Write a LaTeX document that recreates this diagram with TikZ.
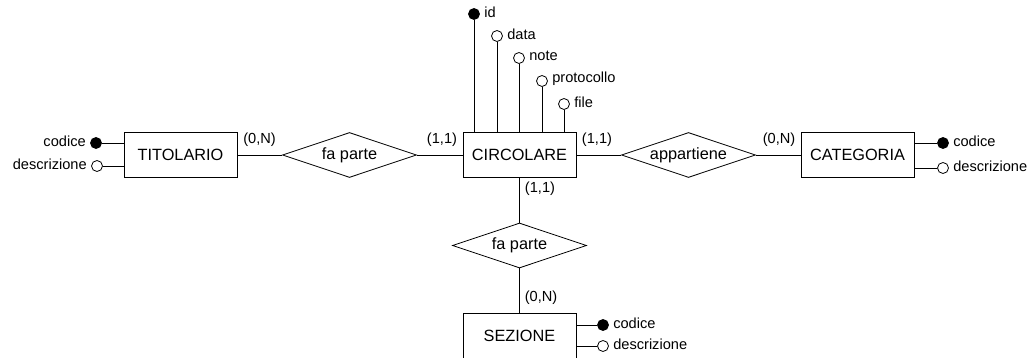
\documentclass[tikz,border=0pt]{standalone}
\usepackage{fontspec}
\setmainfont{Liberation Sans}
\usetikzlibrary{shapes.geometric}
\begin{document}
\begin{tikzpicture}
        [x=1pt,y=-1pt,line width=0.8pt,
         entity/.style={rectangle,draw,minimum width=113pt,minimum height=45pt,
           inner sep=0pt,font=\fontsize{16.3}{19}\selectfont},
         relation/.style={diamond,draw,shape aspect=3,minimum width=134pt,
           minimum height=45pt,inner sep=0pt,font=\fontsize{16.3}{19}\selectfont},
         attr/.style={circle,draw,fill=white,minimum size=11pt,inner sep=0pt,
           label={[font=\fontsize{14.6}{17}\selectfont,inner sep=1pt,
             label distance=3pt,yshift=2pt]#1}},
         keyattr/.style={attr=#1,fill=black},
         card/.style={font=\fontsize{14.6}{17}\selectfont,inner sep=0pt}]
        \useasboundingbox (0,0) rectangle (1030,358);
        % entities and relations
        \node[entity] (titolario) at (180.5,155)   {TITOLARIO};
        \node[entity] (circolare) at (519.5,155)   {CIRCOLARE};
        \node[entity] (categoria) at (857.5,155)   {CATEGORIA};
        \node[entity] (sezione)   at (519.5,335.5) {SEZIONE};
        \node[relation] (fapartet)   at (349.5,155)   {fa parte};
        \node[relation] (appartiene) at (688.5,155)   {appartiene};
        \node[relation] (fapartes)   at (519.5,245.5) {fa parte};
        \foreach \from/\to in {titolario.east/fapartet.west,fapartet.east/circolare.west,
            circolare.east/appartiene.west,appartiene.east/categoria.west,
            circolare.south/fapartes.north,fapartes.south/sezione.north}
          \draw (\from) -- (\to);
        % cardinalities
        \node[card] (c1) at (259.5,140) {(0,N)};
        \node[card] (c2) at (442,140)   {(1,1)};
        \node[card] (c3) at (597,140)   {(1,1)};
        \node[card] (c4) at (779,140)   {(0,N)};
        \node[card] (c5) at (540,189)   {(1,1)};
        \node[card] (c6) at (541,298)   {(0,N)};
        % attributes of CIRCOLARE
        \node[keyattr=right:id]     (id)   at (474,14)  {};
        \node[attr=right:data]      (data) at (497,36)  {};
        \node[attr=right:note]      (note) at (519,58)  {};
        \node[attr=right:protocollo] (prot) at (542,81) {};
        \node[attr=right:file]      (file) at (564,104) {};
        \foreach \a in {id,data,note,prot,file}
          \draw (\a) -- (\a |- circolare.north);
        % attributes of TITOLARIO
        \node[keyattr=left:codice]  (tcod) at (96,143) {};
        \node[attr=left:descrizione] (tdes) at (97,166) {};
        \foreach \a in {tcod,tdes}
          \draw (\a) -- (\a -| titolario.west);
        % attributes of CATEGORIA
        \node[keyattr=right:codice]  (kcod) at (943,143) {};
        \node[attr=right:descrizione] (kdes) at (943,168) {};
        % attributes of SEZIONE
        \node[keyattr=right:codice]  (scod) at (603,325) {};
        \node[attr=right:descrizione] (sdes) at (603,346) {};
        \foreach \a in {kcod,kdes}
          \draw (\a) -- (\a -| categoria.east);
        \foreach \a in {scod,sdes}
          \draw (\a) -- (\a -| sezione.east);
      \end{tikzpicture}
\end{document}
